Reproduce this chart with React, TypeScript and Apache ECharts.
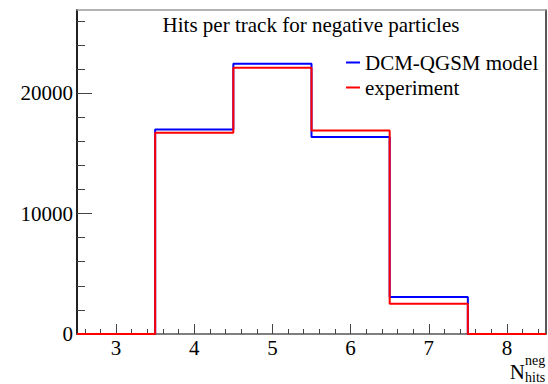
import React, { useEffect, useRef } from "react";
import * as echarts from "echarts";

const binEdges = [2.5, 3.5, 4.5, 5.5, 6.5, 7.5, 8.5];
const modelCounts = [0, 16980, 22440, 16350, 3080, 0];
const experimentCounts = [0, 16710, 22110, 16900, 2520, 0];
const xMajorTicks = [3, 4, 5, 6, 7, 8];
const xMinorTicks = [
  2.6, 2.8, 3.2, 3.4, 3.6, 3.8, 4.2, 4.4, 4.6, 4.8, 5.2, 5.4, 5.6, 5.8,
  6.2, 6.4, 6.6, 6.8, 7.2, 7.4, 7.6, 7.8, 8.2, 8.4,
];
const yMajorTicks = [0, 10000, 20000];
const yMinorTicks = [2000, 4000, 6000, 8000, 12000, 14000, 16000, 18000, 22000, 24000, 26000];
const xMin = 2.5;
const xMax = 8.5;
const yMax = 26900;
const titleText = "Hits per track for negative particles";
const seriesNames = ["DCM-QGSM model", "experiment"];

const FONT = "Liberation Serif";

function histData(edges: number[], counts: number[]) {
  const pts: number[][] = counts.map((c, i) => [edges[i], c]);
  pts.push([edges[edges.length - 1], counts[counts.length - 1]]);
  return pts;
}

export default function App() {
  const ref = useRef<HTMLDivElement>(null);
  useEffect(() => {
    if (!ref.current) return;
    const chart = echarts.init(ref.current, null, { renderer: "svg" });
    const baseX = { type: "value", min: xMin, max: xMax, gridIndex: 0, splitLine: { show: false } };
    const baseY = { type: "value", min: 0, max: yMax, gridIndex: 0, splitLine: { show: false } };
    const txt = (size: number) => ({ fontSize: size, fontFamily: FONT, fill: "#000" });
    chart.setOption({
      animation: false,
      backgroundColor: "#fff",
      textStyle: { fontFamily: FONT },
      grid: { left: 77, right: 2, top: 10, bottom: 50, containLabel: false },
      xAxis: [
        {
          ...baseX,
          position: "bottom",
          axisLine: { onZero: false, lineStyle: { color: "#555", width: 1.5 } },
          axisTick: { inside: true, length: 10, customValues: xMajorTicks, lineStyle: { color: "#444", width: 1 } },
          axisLabel: {
            customValues: xMajorTicks,
            color: "#000",
            fontSize: 21,
            fontFamily: FONT,
            margin: 3,
            formatter: (v: number) => String(v),
          },
        },
        {
          ...baseX,
          position: "bottom",
          axisLine: { show: false, onZero: false },
          axisTick: { inside: true, length: 5, customValues: xMinorTicks, lineStyle: { color: "#444", width: 1 } },
          axisLabel: { show: false },
        },
        {
          ...baseX,
          position: "top",
          axisLine: { onZero: false, lineStyle: { color: "#999", width: 1.5 } },
          axisTick: { show: false },
          axisLabel: { show: false },
        },
      ],
      yAxis: [
        {
          ...baseY,
          position: "left",
          axisLine: { show: true, onZero: false, lineStyle: { color: "#222", width: 2 } },
          axisTick: { inside: true, length: 15, customValues: yMajorTicks, lineStyle: { color: "#444", width: 1 } },
          axisLabel: {
            customValues: yMajorTicks,
            color: "#000",
            fontSize: 21,
            fontFamily: FONT,
            margin: 4,
            formatter: (v: number) => String(v),
          },
        },
        {
          ...baseY,
          position: "left",
          axisLine: { show: false, onZero: false },
          axisTick: { inside: true, length: 8, customValues: yMinorTicks, lineStyle: { color: "#444", width: 1 } },
          axisLabel: { show: false },
        },
        {
          ...baseY,
          position: "right",
          axisLine: { show: true, onZero: false, lineStyle: { color: "#222", width: 1.5 } },
          axisTick: { show: false },
          axisLabel: { show: false },
        },
      ],
      legend: {
        orient: "vertical",
        left: 346,
        top: 52,
        padding: 0,
        itemGap: 4,
        itemWidth: 14,
        itemHeight: 2,
        icon: "rect",
        textStyle: { fontSize: 21, fontFamily: FONT, color: "#000", lineHeight: 21 },
        data: seriesNames,
      },
      graphic: [
        {
          type: "text",
          x: 311,
          y: 25,
          style: { text: titleText, ...txt(21), textAlign: "center", textVerticalAlign: "middle" },
        },
        {
          type: "text",
          x: 525,
          y: 372,
          style: { text: "N", ...txt(21), textAlign: "right", textVerticalAlign: "middle" },
        },
        {
          type: "text",
          x: 525,
          y: 360,
          style: { text: "neg", ...txt(14), textAlign: "left", textVerticalAlign: "middle" },
        },
        {
          type: "text",
          x: 525,
          y: 377,
          style: { text: "hits", ...txt(14), textAlign: "left", textVerticalAlign: "middle" },
        },
      ],
      series: [
        {
          name: seriesNames[0],
          type: "line",
          step: "end",
          symbol: "none",
          xAxisIndex: 0,
          yAxisIndex: 0,
          color: "#0000ff",
          lineStyle: { color: "#0000ff", width: 2 },
          data: histData(binEdges, modelCounts),
        },
        {
          name: seriesNames[1],
          type: "line",
          step: "end",
          symbol: "none",
          xAxisIndex: 0,
          yAxisIndex: 0,
          color: "#ff0000",
          lineStyle: { color: "#ff0000", width: 2 },
          data: histData(binEdges, experimentCounts),
        },
      ],
    });
    return () => chart.dispose();
  }, []);
  return <div ref={ref} style={{ width: 548, height: 384, position: "absolute", left: 0, top: 0 }} />;
}
